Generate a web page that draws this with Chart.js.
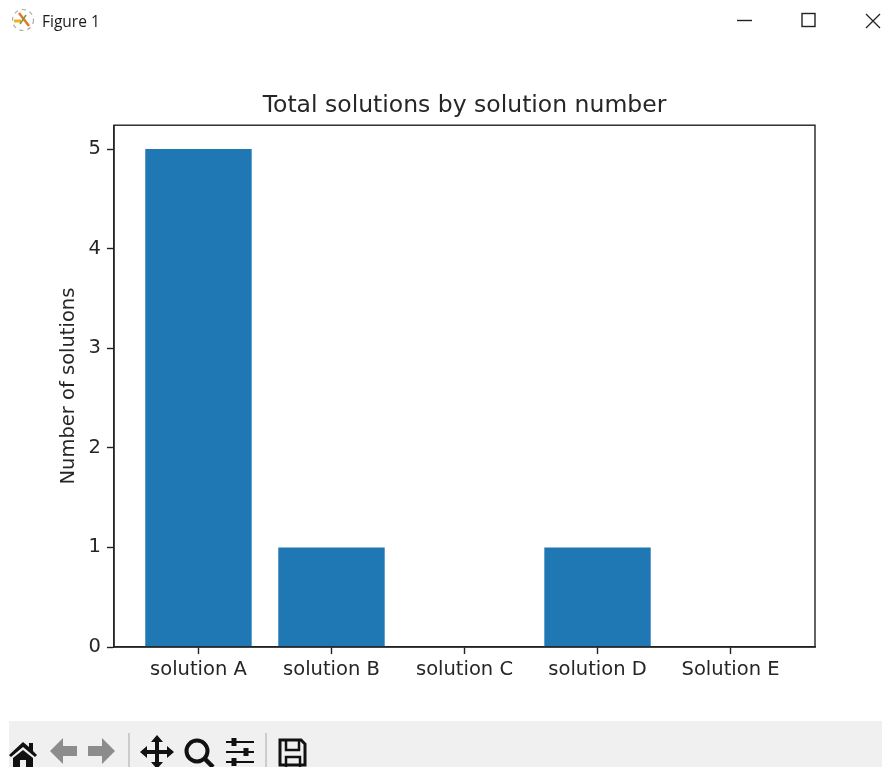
<!DOCTYPE html>
<html>
<head>
<meta charset="utf-8">
<title>Figure 1</title>
<script src="https://cdn.jsdelivr.net/npm/chart.js@4/dist/chart.umd.min.js"></script>
<style>
html,body{margin:0;padding:0;background:#fff;overflow:hidden;}
#page{position:relative;width:882px;height:767px;overflow:hidden;}
#box{position:absolute;left:0;top:0;width:882px;height:767px;}
#name{position:absolute;left:42px;top:10px;font:15.5px "Open Sans",sans-serif;color:#1a1a1a;}
#toolbar{position:absolute;left:9px;top:721px;width:873px;height:46px;background:#f0f0f0;}
svg.overlay{position:absolute;left:0;top:0;}
</style>
</head>
<body>
<div id="page">
    <div id="box"><canvas id="chart"></canvas></div>
    <div id="toolbar"></div>
    <div id="name">Figure 1</div>
    <svg class="overlay" width="882" height="767" fill="none" stroke="#222">
        <!-- window icon -->
        <path d="M19 13 L29 26" stroke="#e8742a" stroke-width="2.5"/>
        <path d="M14 21h7" stroke="#f0b020" stroke-width="3"/>
        <path d="M26 15l-6 9" stroke="#7a9a3a" stroke-width="1.5"/>
        <circle cx="23" cy="20" r="10.5" stroke="#aaa" stroke-width="1.2" stroke-dasharray="4 4"/>
        <!-- window buttons -->
        <path d="M737 20.5h15" stroke-width="1.4"/>
        <rect x="802" y="13.5" width="13" height="13" stroke-width="1.4"/>
        <path d="M866 14l14 14M880 14l-14 14" stroke-width="1.3"/>
        <!-- toolbar -->
        <path d="M23 742 L29 747 L29 743 L33 743 L33 751 L37 755 L35 757 L23 747 L11 757 L9 755 Z" fill="#111" stroke="none"/>
        <path d="M23 750 L33 758 L33 767 L26 767 L26 760 L20 760 L20 767 L13 767 L13 758 Z" fill="#111" stroke="none"/>
        <path d="M50 751 L63 738 L63 746 L77 746 L77 756 L63 756 L63 764 Z" fill="#8c8c8c" stroke="none"/>
        <path d="M115 751 L102 738 L102 746 L88 746 L88 756 L102 756 L102 764 Z" fill="#8c8c8c" stroke="none"/>
        <path d="M129 733V767M266 733V767" stroke="#b4b4b4" stroke-width="1.2"/>
        <path d="M157 737V767M142 752H172" stroke="#111" stroke-width="4"/>
        <path d="M157 735l-6 7h12zM157 769l-6-7h12zM140 752l7-6v12zM174 752l-7-6v12z" fill="#111" stroke="none"/>
        <circle cx="197" cy="751" r="10.5" stroke="#111" stroke-width="4"/>
        <path d="M204 758l9 9" stroke="#111" stroke-width="4.5"/>
        <path d="M226 742h28M226 752h28M226 762h28" stroke="#111" stroke-width="2"/>
        <path d="M234 738v8M246 748v8M234 758v8" stroke="#111" stroke-width="5"/>
        <path d="M280 740h21l4 4v21h-25z" stroke="#111" stroke-width="3"/>
        <path d="M286 740v10h13v-10M286 767v-10h14v10" stroke="#111" stroke-width="2.5"/>
    </svg>
</div>
<script>
const categories = ["solution A","solution B","solution C","solution D","Solution E"];
const solutionCounts = [5,1,0,1,0];
const yTicks = [0,1,2,3,4,5];

const textColor = "#262626";
const lineColor = "#222222";
const fontName = "'DejaVu Sans'";

document.getElementById("chart").style.display = "block";

// top and right spines, chart.js only draws the two axis lines
const frame = {
    id:"frame",
    afterDraw(chart){
        const a = chart.chartArea;
        const c = chart.ctx;
        c.save();
        c.strokeStyle = lineColor;
        c.lineWidth = 1.4;
        c.strokeRect(a.left,a.top,a.right-a.left,a.bottom-a.top);
        c.restore();
    }
};

new Chart(document.getElementById("chart"),{

    type:"bar",

    data:{
        datasets:[{
            data:categories.map((name,i)=>({x:i,y:solutionCounts[i]})),
            backgroundColor:"#1f77b4",
            borderWidth:0,
            barPercentage:0.8,
            categoryPercentage:1
        }]
    },

    options:{
        responsive:true,
        maintainAspectRatio:false,
        animation:false,
        layout:{padding:{right:67}},
        plugins:{
            legend:{display:false},
            tooltip:{enabled:false},
            title:{
                display:true,
                text:"Total solutions by solution number",
                color:textColor,
                fullSize:false,
                font:{family:fontName,size:23.5,weight:"normal"},
                padding:{top:92,bottom:5}
            }
        },
        scales:{
            x:{
                type:"linear",
                offset:false,
                min:-0.635,
                max:4.635,
                afterBuildTicks(axis){
                    axis.ticks = categories.map((name,i)=>({value:i}));
                },
                afterFit(axis){
                    axis.height = 120;
                },
                grid:{offset:false,drawOnChartArea:false,tickLength:7,tickColor:lineColor,tickWidth:1.4},
                border:{color:lineColor,width:1.4},
                ticks:{
                    color:textColor,
                    padding:4,
                    maxRotation:0,
                    autoSkip:false,
                    font:{family:fontName,size:19.5},
                    callback:value=>categories[value]
                }
            },
            y:{
                min:0,
                max:5.24,
                afterBuildTicks(axis){
                    axis.ticks = yTicks.map(v=>({value:v}));
                },
                afterFit(axis){
                    axis.width = 114;
                },
                grid:{drawOnChartArea:false,tickLength:7,tickColor:lineColor,tickWidth:1.4},
                border:{color:lineColor,width:1.4},
                ticks:{
                    color:textColor,
                    padding:6,
                    font:{family:fontName,size:19.5}
                },
                title:{
                    display:true,
                    text:"Number of solutions",
                    color:textColor,
                    font:{family:fontName,size:19.5},
                    padding:{top:57,bottom:0}
                }
            }
        }
    },

    plugins:[frame]

});
</script>
</body>
</html>
